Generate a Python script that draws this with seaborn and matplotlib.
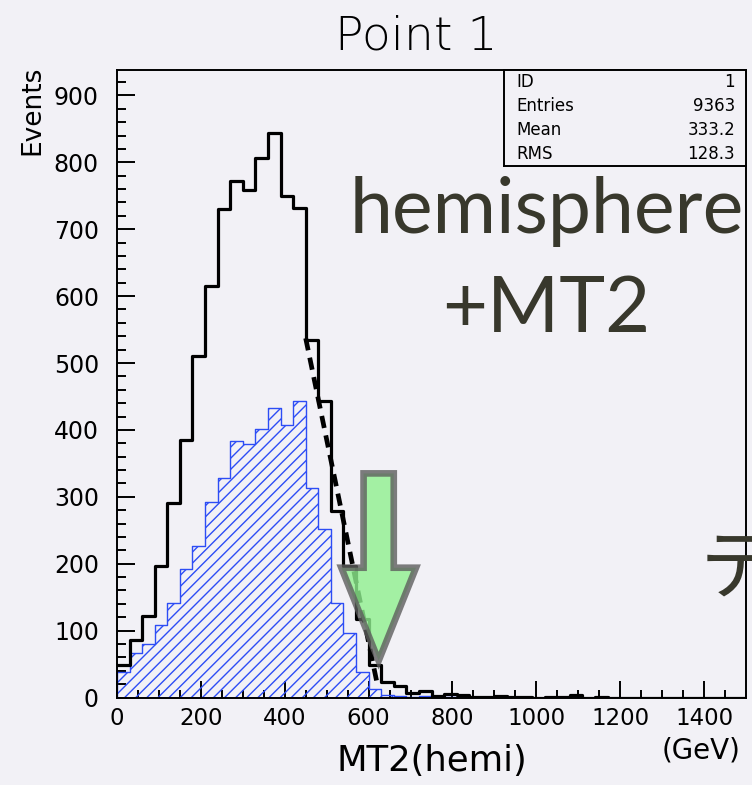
import numpy as np
import pandas as pd
import matplotlib
matplotlib.use("Agg")
import matplotlib.pyplot as plt
import seaborn as sns
from matplotlib.ticker import MultipleLocator
from matplotlib.patches import Polygon

# ---------------- data ----------------
bin_edges = list(range(0, 1501, 30))  # 50 bins of 30 GeV
all_counts = [48, 86, 122, 197, 290, 385, 510, 615, 730, 772,
              759, 807, 844, 749, 732, 535, 443, 279, 197, 118,
              48, 23, 17, 6, 9, 2, 5, 3, 1, 1,
              2, 1, 1, 0, 1, 1, 3, 0, 1, 0,
              0, 0, 0, 0, 0, 0, 0, 0, 0, 0]
hemi_counts = [38, 66, 80, 108, 142, 192, 226, 292, 328, 383,
               379, 402, 433, 408, 443, 313, 252, 142, 97, 38,
               12, 4, 2, 1, 2, 0, 1, 0, 0, 0,
               0, 0, 0, 0, 0, 0, 0, 0, 0, 0,
               0, 0, 0, 0, 0, 0, 0, 0, 0, 0]
fit_x = [450, 620]
fit_y = [537, 22]
arrow_x = [588, 660, 660, 713, 624, 535, 588]
arrow_y = [335, 335, 194, 194, 55, 194, 194]
stat_names = ["ID", "Entries", "Mean", "RMS"]
stat_values = ["1", "9363", "333.2", "128.3"]
x_ticks = [0, 200, 400, 600, 800, 1000, 1200, 1400]
y_ticks = [0, 100, 200, 300, 400, 500, 600, 700, 800, 900]

# ---------------- style ----------------
sns.set_theme(style="ticks")
plt.rcParams['font.family'] = ['DejaVu Sans']
plt.rcParams['hatch.linewidth'] = 1.0
plt.rcParams['hatch.color'] = '#2d4df5'
for k in ['text.color', 'axes.labelcolor', 'xtick.color', 'ytick.color',
          'xtick.labelcolor', 'ytick.labelcolor']:
    plt.rcParams[k] = 'black'
bg = '#f2f1f6'
W, H = 752, 785

fig = plt.figure(figsize=(W / 100, H / 100), dpi=100, facecolor=bg)
ax = fig.add_axes([117 / W, 1 - 697.5 / H, 629 / W, 627.5 / H])
ax.set_facecolor(bg)

edges = np.array(bin_edges, dtype=float)
centers = (edges[:-1] + edges[1:]) / 2
df = pd.DataFrame({"mt2": centers, "all": all_counts, "hemi": hemi_counts})

sns.histplot(data=df, x="mt2", weights="hemi", bins=bin_edges, element="step",
             fill=True, color='#2d4df5', facecolor='none', edgecolor='#2d4df5',
             hatch='///', linewidth=1.0, ax=ax, zorder=2)
sns.histplot(data=df, x="mt2", weights="all", bins=bin_edges, element="step",
             fill=False, color='black', linewidth=2.3, ax=ax, zorder=3)

sns.lineplot(x=fit_x, y=fit_y, ax=ax, color='black', linewidth=3.4, zorder=4)
ax.lines[-1].set_dashes((2.6, 1.6))

arrow = Polygon(np.column_stack([arrow_x, arrow_y]), closed=True,
                facecolor='#8ff08f', edgecolor='#5e5e5e', alpha=0.8,
                linewidth=4.8, joinstyle='miter', zorder=5)
ax.add_patch(arrow)

ax.set_xlim(0, 1500)
ax.set_ylim(0, 938)
ax.set_xticks(x_ticks)
ax.set_yticks(y_ticks)
ax.xaxis.set_minor_locator(MultipleLocator(50))
ax.yaxis.set_minor_locator(MultipleLocator(20))
ax.tick_params(which='both', direction='in', width=1.4, color='black',
               labelcolor='black', top=False, right=False)
ax.tick_params(axis='x', which='major', length=12, labelsize=16.5, pad=7)
ax.tick_params(axis='x', which='minor', length=6)
ax.tick_params(axis='y', which='major', length=13, labelsize=17, pad=13)
ax.tick_params(axis='y', which='minor', length=6.5)
for s in ax.spines.values():
    s.set_linewidth(1.4)
    s.set_color('black')

ax.set_xlabel('MT2(hemi)', fontsize=25.5, color='black')
ax.xaxis.set_label_coords(0.5, (697.5 - 744) / 627.5)
ax.set_ylabel('Events', fontsize=19, loc='top', color='black')
ax.yaxis.set_label_coords((45 - 117) / 629, 1 + 4 / 627.5)

# stats box
bax = fig.add_axes([504 / W, 1 - 166 / H, 242 / W, 96 / H])
bax.set_facecolor(bg)
bax.set_xticks([])
bax.set_yticks([])
for s in bax.spines.values():
    s.set_linewidth(1.4)
    s.set_color('black')
row_y = [0.875, 0.62, 0.37, 0.125]
for name, val, yy in zip(stat_names, stat_values, row_y):
    bax.text(0.05, yy, name, ha='left', va='center', fontsize=12, transform=bax.transAxes)
    bax.text(0.955, yy, val, ha='right', va='center', fontsize=12, transform=bax.transAxes)

# title and overlay texts
fig.text(416 / W, 1 - 37 / H, 'Point 1', ha='center', va='center',
         fontsize=34, fontweight='light', color='black')
fig.text(1 - 51 / W, 1 - 750 / H, '(GeV)', ha='center', va='center', fontsize=20)
txt_col = '#38382c'
fig.text(350 / W, 1 - 233 / H, 'hemisphere', ha='left', va='baseline',
         fontsize=55.5, color=txt_col, family=['Lato', 'DejaVu Sans'])
fig.text(546 / W, 1 - 332 / H, '+MT2', ha='center', va='baseline',
         fontsize=56, color=txt_col, family=['Lato', 'DejaVu Sans'])
fig.text(700 / W, 1 - 571 / H, 'テ', ha='left', va='center',
         fontsize=56, color=txt_col, family=['Noto Sans CJK JP', 'DejaVu Sans'])

fig.savefig('out.png', dpi=100, facecolor=bg)
